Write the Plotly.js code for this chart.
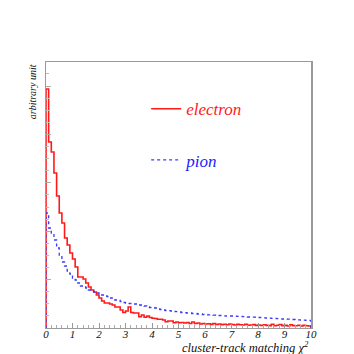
<!DOCTYPE html>
<html>
<head>
<meta charset="utf-8">
<script src="https://cdn.plot.ly/plotly-3.0.1.min.js"></script>
<style>
  html, body { margin: 0; padding: 0; background: #fff; }
  #chart { width: 354px; height: 354px; }
</style>
</head>
<body>
<div id="chart"></div>
<script>
// 100 bins of width 0.1 from 0 to 10, heights in arbitrary units
const binEdges = [0, 0.1, 0.2, 0.3, 0.4, 0.5, 0.6, 0.7, 0.8, 0.9,
  1.0, 1.1, 1.2, 1.3, 1.4, 1.5, 1.6, 1.7, 1.8, 1.9,
  2.0, 2.1, 2.2, 2.3, 2.4, 2.5, 2.6, 2.7, 2.8, 2.9,
  3.0, 3.1, 3.2, 3.3, 3.4, 3.5, 3.6, 3.7, 3.8, 3.9,
  4.0, 4.1, 4.2, 4.3, 4.4, 4.5, 4.6, 4.7, 4.8, 4.9,
  5.0, 5.1, 5.2, 5.3, 5.4, 5.5, 5.6, 5.7, 5.8, 5.9,
  6.0, 6.1, 6.2, 6.3, 6.4, 6.5, 6.6, 6.7, 6.8, 6.9,
  7.0, 7.1, 7.2, 7.3, 7.4, 7.5, 7.6, 7.7, 7.8, 7.9,
  8.0, 8.1, 8.2, 8.3, 8.4, 8.5, 8.6, 8.7, 8.8, 8.9,
  9.0, 9.1, 9.2, 9.3, 9.4, 9.5, 9.6, 9.7, 9.8, 9.9, 10.0];

const electron = [239, 186, 176, 155, 132, 115, 105, 90, 83, 75,
  69, 61, 51, 51, 49, 45, 41, 38, 36, 33,
  30, 27, 25, 25, 24, 23, 21, 21, 18, 15.5,
  17, 21, 15.5, 15, 15, 11.3, 13, 10.7, 12, 10.5,
  9.7, 9.5, 8.7, 8.7, 8, 6.3, 7, 7, 5.3, 6,
  5.3, 5.5, 5, 5.5, 4.5, 6, 4.5, 5, 4, 4.5,
  4, 4.2, 3.6, 4.5, 3.5, 4, 3.4, 3.8, 3.2, 4,
  3.5, 3, 3.6, 3.2, 3, 3.8, 2.8, 3, 3.4, 2.6,
  3, 2.5, 3.2, 2.6, 2.4, 3.6, 2.2, 2.8, 3.4, 2.4,
  2.6, 2, 3.2, 2.4, 2.2, 2.8, 2, 2.6, 2.2, 2];

const pion = [115, 100, 94, 88, 80, 72, 66, 62, 57, 54,
  50, 48, 45, 42, 41, 40, 38, 37, 36, 35,
  34, 33, 32, 31.5, 30, 29, 28, 27.5, 26.5, 25.5,
  25, 24.5, 24.5, 24, 24, 23, 22.5, 22, 21, 20.5,
  20.5, 20, 19, 18.5, 18, 17.5, 17.3, 17, 16.5, 16.3,
  16, 15.5, 15.3, 15, 15, 14.5, 14.5, 14, 14, 13.5,
  13.5, 13.2, 13, 12.8, 12.6, 12.5, 12.3, 12.2, 12, 12,
  12, 11.8, 11.6, 11.5, 11.3, 11.2, 11, 11, 10.8, 10.6,
  10.5, 10.3, 10.1, 10, 9.8, 9.6, 9.5, 9.3, 9.2, 9,
  9, 8.8, 8.6, 8.5, 8.3, 8.1, 8, 7.8, 7.6, 7.5];

const xTicks = [0, 1, 2, 3, 4, 5, 6, 7, 8, 9, 10];

// build a closed step outline: up from 0 at the first edge, down to 0 at the last
function stepTrace(values, name, color, dash, width) {
  const xs = [binEdges[0]];
  const ys = [0];
  values.forEach((v, i) => { xs.push(binEdges[i]); ys.push(v); });
  xs.push(binEdges[binEdges.length - 1]); ys.push(values[values.length - 1]);
  xs.push(binEdges[binEdges.length - 1]); ys.push(0);
  return {
    x: xs, y: ys, type: 'scatter', mode: 'lines', name: name,
    legendgroup: name,
    line: { shape: 'hv', color: color, width: width, dash: dash },
    hoverinfo: 'skip'
  };
}

const serif = 'Liberation Serif, Times New Roman, serif';

const data = [
  stepTrace(electron, '<span style="color:#ff1a1a">electron</span>', '#ff1a1a', 'solid', 1.6),
  stepTrace(pion, '<span style="color:#2020ff">pion</span>', '#3a3aff', 'dot', 1.3)
];

const layout = {
  width: 354, height: 354,
  margin: { l: 46, r: 43, t: 62, b: 26 },
  paper_bgcolor: '#fff', plot_bgcolor: '#fff',
  font: { family: serif, color: '#111' },
  showlegend: true,
  legend: {
    x: 0.378, y: 0.89, xanchor: 'left', yanchor: 'top',
    bgcolor: 'rgba(0,0,0,0)', borderwidth: 0,
    traceorder: 'grouped', tracegroupgap: 26,
    itemwidth: 30,
    font: { family: serif, size: 17, style: 'italic' }
  },
  xaxis: {
    range: [0, 10], showgrid: false, zeroline: false,
    tickvals: xTicks, ticktext: xTicks.map(String),
    ticks: 'inside', ticklen: 5, tickcolor: '#999', tickwidth: 1,
    minor: { dtick: 0.2, ticks: 'inside', ticklen: 3, tickcolor: '#aaa' },
    showline: true, linecolor: '#9a9a9a', linewidth: 1, mirror: true,
    ticklabelstandoff: -4,
    tickfont: { family: serif, size: 11, style: 'italic', color: '#111' }
  },
  yaxis: {
    range: [0, 266], showgrid: false, zeroline: false,
    tick0: 0, dtick: 48.4, showticklabels: false,
    ticks: 'inside', ticklen: 5, tickcolor: '#aaa', tickwidth: 1,
    minor: { dtick: 12.1, ticks: 'inside', ticklen: 3, tickcolor: '#bbb' },
    showline: true, linecolor: '#9a9a9a', linewidth: 1.5, mirror: true
  },
  annotations: [
    {
      text: 'arbitrary unit', textangle: -90,
      xref: 'paper', yref: 'paper', x: -0.05, y: 1.0,
      xanchor: 'center', yanchor: 'top', showarrow: false,
      font: { family: serif, size: 10, style: 'italic', color: '#111' }
    },
    {
      text: 'cluster-track matching \u03c7<sup>2</sup>',
      xref: 'paper', yref: 'paper', x: 1.0, y: -0.072,
      xanchor: 'right', yanchor: 'middle', showarrow: false,
      font: { family: serif, size: 12.5, style: 'italic', color: '#111' }
    }
  ]
};

Plotly.newPlot('chart', data, layout, { displayModeBar: false, staticPlot: true });
</script>
</body>
</html>
